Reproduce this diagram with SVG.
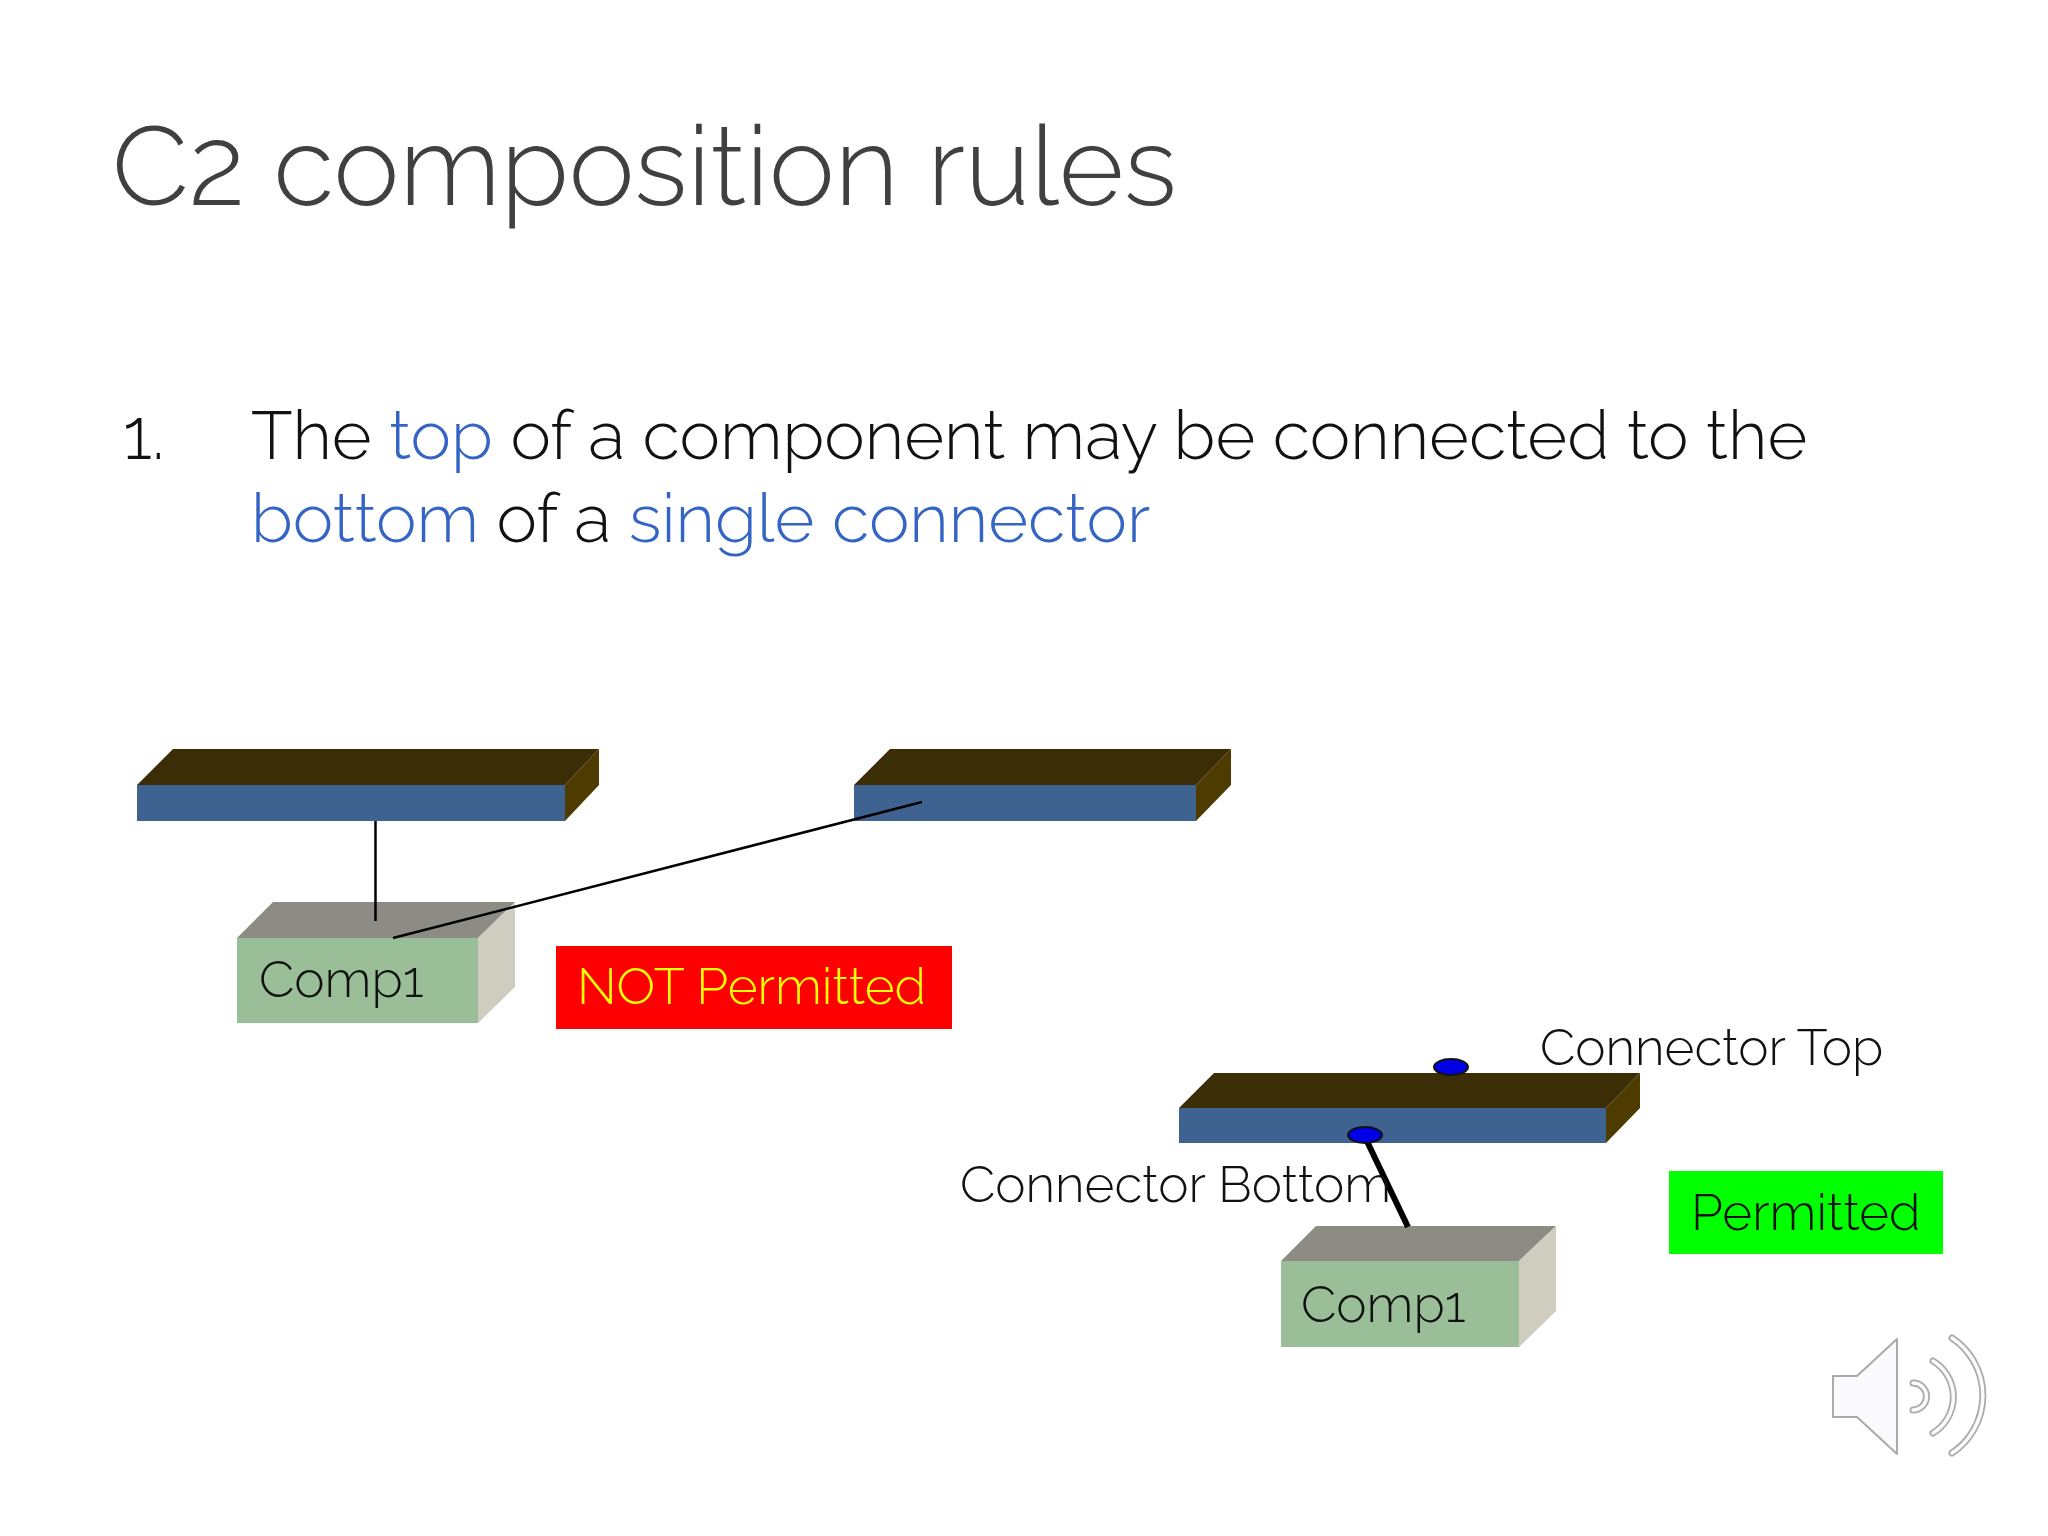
<svg xmlns="http://www.w3.org/2000/svg" width="2048" height="1536" viewBox="0 0 2048 1536">
<style>
text{font-family:Raleway,"Open Sans","Noto Sans",sans-serif;font-weight:300}
.k{fill:#111}.b{fill:#3565c4}
.front{fill:#3e6390}.top{fill:#3b2d05}.side{fill:#4e3b00}
.cf{fill:#9abf98}.ct{fill:#8c8c85}.cs{fill:#cfccc0}
.l{font-size:51.200px;fill:#111}.p{font-size:68.400px}
.arc{fill:none;stroke-linecap:round}
</style>
<rect width="2048" height="1536" fill="#fff"/>
<text x="112" y="205" font-size="111" fill="#404040">C2 composition rules</text>
<text x="123" y="459" font-size="71" class="k">1.</text>
<text x="251" y="459" class="p k">The <tspan class="b">top</tspan> of a component may be connected to the</text>
<text x="251" y="542" class="p k"><tspan class="b">bottom</tspan> of a <tspan class="b">single connector</tspan></text>
<g id="connector-a"><polygon class="top" points="137,785 173,749 599,749 565,785"/><rect class="front" x="137" y="785" width="428" height="36"/><polygon class="side" points="565,785 599,749 599,785 565,821"/></g>
<g id="connector-b"><polygon class="top" points="854,785 890,749 1231,749 1196,785"/><rect class="front" x="854" y="785" width="342" height="36"/><polygon class="side" points="1196,785 1231,749 1231,785 1196,821"/></g>
<g id="comp-a"><polygon class="ct" points="237,938 273,902 515,902 478,938"/><rect class="cf" x="237" y="938" width="241" height="85"/><polygon class="cs" points="478,938 515,902 515,987 478,1023"/><text x="259" y="997" class="l">Comp1</text></g>
<g id="connector-c"><polygon class="top" points="1179,1108 1214,1073 1640,1073 1606,1108"/><rect class="front" x="1179" y="1108" width="427" height="35"/><polygon class="side" points="1606,1108 1640,1073 1640,1108 1606,1143"/></g>
<g id="comp-b"><polygon class="ct" points="1281,1261 1316,1226 1556,1226 1519,1261"/><rect class="cf" x="1281" y="1261" width="238" height="86"/><polygon class="cs" points="1519,1261 1556,1226 1556,1311 1519,1347"/><text x="1301" y="1322" class="l">Comp1</text></g>
<g id="connectors" stroke="#000" fill="none"><path d="M375.500,821V921" stroke-width="2.500"/><path d="M393,938L922,802" stroke-width="2.500"/><path d="M1364,1135L1408,1227" stroke-width="6"/></g>
<g id="ports" fill="#0000e6" stroke="#111" stroke-width="2"><ellipse cx="1451" cy="1067" rx="17" ry="8"/><ellipse cx="1365" cy="1135" rx="17" ry="8"/></g>
<text x="1540" y="1065" class="l">Connector Top</text>
<text x="960" y="1202" class="l">Connector Bottom</text>
<g id="not-permitted"><rect x="556" y="946" width="396" height="83" fill="#f00"/><text x="577" y="1004" font-size="51.200" fill="#ff0">NOT Permitted</text></g>
<g id="permitted"><rect x="1669" y="1171" width="274" height="83" fill="#0f0"/><text x="1691" y="1230" font-size="51.200" fill="#111">Permitted</text></g>
<g id="speaker" stroke-linejoin="round">
<path d="M1833,1376H1857L1897,1339V1454L1857,1417H1833Z" fill="#fafafc" stroke="#aaa" stroke-width="2"/>
<g class="arc" stroke="#aaa" stroke-width="7"><path d="M1913,1383A13.500,13.500 0 0 1 1913,1410"/><path d="M1933,1361A42,42 0 0 1 1933,1433"/><path d="M1952,1338A69,69 0 0 1 1952,1453"/></g>
<g class="arc" stroke="#fbfbfb" stroke-width="3.500"><path d="M1913,1383A13.500,13.500 0 0 1 1913,1410"/><path d="M1933,1361A42,42 0 0 1 1933,1433"/><path d="M1952,1338A69,69 0 0 1 1952,1453"/></g>
</g>
</svg>
